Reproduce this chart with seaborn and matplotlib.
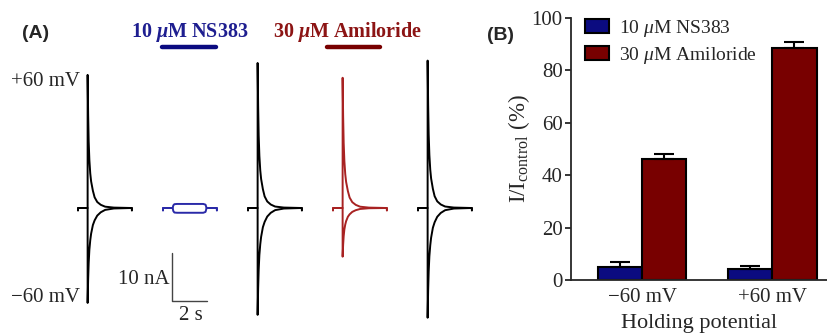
import numpy as np
import pandas as pd
import matplotlib
matplotlib.use("Agg")
import matplotlib.pyplot as plt
import seaborn as sns

# ---- panel B data (I/I_control, %) ----
potentials = ["\u221260 mV", "+60 mV"]
drugs = ["10 $\\mu$M NS383", "30 $\\mu$M Amiloride"]
ns383_mean = [5.1, 4.2]
ns383_err = [1.8, 1.1]
amil_mean = [46.1, 88.7]
amil_err = [1.9, 2.0]

# ---- panel A data: current traces (nA) ----
# normalised decay of the transient
decay_t = [0, 0.03, 0.06, 0.10, 0.15, 0.20, 0.30, 0.40, 0.55, 0.75, 1.0, 1.5, 2.5]
decay_pos = [1.0, 0.70, 0.50, 0.36, 0.26, 0.20, 0.13, 0.08, 0.045, 0.024, 0.01, 0.003, 0.0]
decay_neg = [1.0, 0.75, 0.58, 0.44, 0.34, 0.27, 0.18, 0.13, 0.08, 0.045, 0.02, 0.005, 0.0]
# NS383 trace: small sustained current
box_t = [0, 0.04, 0.10, 0.25, 1.75, 1.88, 1.94]
box_pos = [0, 0.55, 0.80, 0.85, 0.85, 0.70, 0]
box_neg = [0, -0.65, -0.95, -1.0, -1.0, -0.82, 0]
# peak currents (+60 mV, -60 mV) for control, washout, amiloride, washout traces
peaks_pos = [27.9, 30.4, 27.3, 30.9]
peaks_neg = [-19.9, -22.4, -10.2, -23.0]

step_time = 0.55
sweep_dur = 3.08

BLUE = "#0b0b80"
RED = "#780000"
TBLUE = "#2a2aa8"
TRED = "#a82222"

sns.set_theme(style="ticks")
plt.rcParams["font.family"] = ["Liberation Serif", "DejaVu Serif"]
plt.rcParams["mathtext.fontset"] = "custom"
plt.rcParams["mathtext.rm"] = "Liberation Serif"
plt.rcParams["mathtext.it"] = "Liberation Serif:italic"
plt.rcParams["mathtext.bf"] = "Liberation Serif:bold"
plt.rcParams["mathtext.bfit"] = "Liberation Serif:italic:bold"

W, H = 828, 333
fig = plt.figure(figsize=(W / 100, H / 100), dpi=100)


def fx(x):
    return x / W


def fy(y):
    return 1 - y / H


# ================= panel A =================
px_per_s = 17.5
px_per_nA = 4.77
base_px = 208
axA = fig.add_axes([0, 0, 480 / W, 1])
axA.set_xlim(0, 480 / px_per_s)
axA.set_ylim(-(H - base_px) / px_per_nA, base_px / px_per_nA)
axA.axis("off")


def transient(peak, shape):
    t = [0, 0, step_time] + [step_time + v for v in decay_t] + [sweep_dur, sweep_dur]
    i = [-0.5, 0, 0] + [peak * v for v in shape] + [0, -0.5]
    return np.array(t), np.array(i)


def box(vals):
    t = [0, 0, step_time] + [step_time + v for v in box_t] + [sweep_dur, sweep_dur]
    i = [-0.5, 0, 0] + list(vals) + [0, -0.5]
    return np.array(t), np.array(i)


sweep_starts = [78, 248, 333, 418]
sweep_cols = ["black", "black", TRED, "black"]
for start, pp, pn, c in zip(sweep_starts, peaks_pos, peaks_neg, sweep_cols):
    t0 = start / px_per_s
    for pk, sh in ((pp, decay_pos), (pn, decay_neg)):
        t, i = transient(pk, sh)
        sns.lineplot(x=t0 + t, y=i, ax=axA, color=c, lw=1.4, sort=False,
                     estimator=None)

t0 = 163 / px_per_s
for vals in (box_pos, box_neg):
    t, i = box(vals)
    sns.lineplot(x=t0 + t, y=i, ax=axA, color=TBLUE, lw=1.4, sort=False,
                 estimator=None)

# scale bar 10 nA / 2 s
sb_t = 172 / px_per_s
sb_i = (base_px - 301) / px_per_nA
axA.plot([sb_t, sb_t, sb_t + 2], [sb_i + 10, sb_i, sb_i], color="#444444", lw=1.0)

fig.text(fx(36), fy(34), "(A)", family="Liberation Sans", weight="bold",
         fontsize=14, ha="center", va="center")
fig.text(fx(190), fy(32), "10 $\\mathbfit{\\mu}$M NS383", weight="bold",
         fontsize=14.5, color="#1e1e90", ha="center", va="center")
fig.text(fx(348), fy(32), "30 $\\mathbfit{\\mu}$M Amiloride", weight="bold",
         fontsize=14.5, color="#8c1414", ha="center", va="center")
fig.add_artist(plt.Line2D([fx(162), fx(216)], [fy(47), fy(47)], color=BLUE, lw=3.2))
fig.add_artist(plt.Line2D([fx(327), fx(380)], [fy(47), fy(47)], color=RED, lw=3.2))
fig.text(fx(80), fy(81), "+60 mV", fontsize=15, ha="right", va="center")
fig.text(fx(80), fy(297), "\u221260 mV", fontsize=15, ha="right", va="center")
fig.text(fx(170), fy(280), "10 nA", fontsize=15, ha="right", va="center")
fig.text(fx(191), fy(315), "2 s", fontsize=15, ha="center", va="center")

# ================= panel B =================
axB = fig.add_axes([fx(571), fy(280), fx(827) - fx(571), fy(18) - fy(280)])
df = pd.DataFrame({
    "potential": potentials * 2,
    "drug": [drugs[0]] * 2 + [drugs[1]] * 2,
    "value": ns383_mean + amil_mean,
})
sns.barplot(data=df, x="potential", y="value", hue="drug", palette=[BLUE, RED],
            width=0.68, errorbar=None, edgecolor="black", linewidth=1.5,
            saturation=1, ax=axB)

for cont, err in zip(axB.containers, [ns383_err, amil_err]):
    xs = [p.get_x() + p.get_width() / 2 for p in cont]
    ys = [p.get_height() for p in cont]
    axB.errorbar(xs, ys, yerr=[np.zeros(len(err)), err], fmt="none",
                 ecolor="black", elinewidth=1.5, capsize=7, capthick=1.5, zorder=1)

axB.set_xlim(-0.546, 1.42)
axB.set_ylim(0, 100)
axB.set_yticks([0, 20, 40, 60, 80, 100])
sns.despine(ax=axB)
for s in ("left", "bottom"):
    axB.spines[s].set_linewidth(1.3)
axB.tick_params(axis="y", length=4, width=1.3, pad=2, labelsize=15)
axB.tick_params(axis="x", length=0, pad=6, labelsize=15)
axB.set_xlabel("Holding potential", fontsize=16, labelpad=5)
axB.set_ylabel("I/I$_{\\rm control}$ (%)", fontsize=16.5, labelpad=0)

leg = axB.legend(loc="upper left", bbox_to_anchor=(fx(585), fy(18)),
                 bbox_transform=fig.transFigure, frameon=False, fontsize=14,
                 borderpad=0, borderaxespad=0, handlelength=1.25,
                 handleheight=0.75, handletextpad=0.5, labelspacing=0.3)

fig.text(fx(501), fy(35), "(B)", family="Liberation Sans", weight="bold",
         fontsize=14, ha="center", va="center")

fig.savefig("out.png", dpi=100)
